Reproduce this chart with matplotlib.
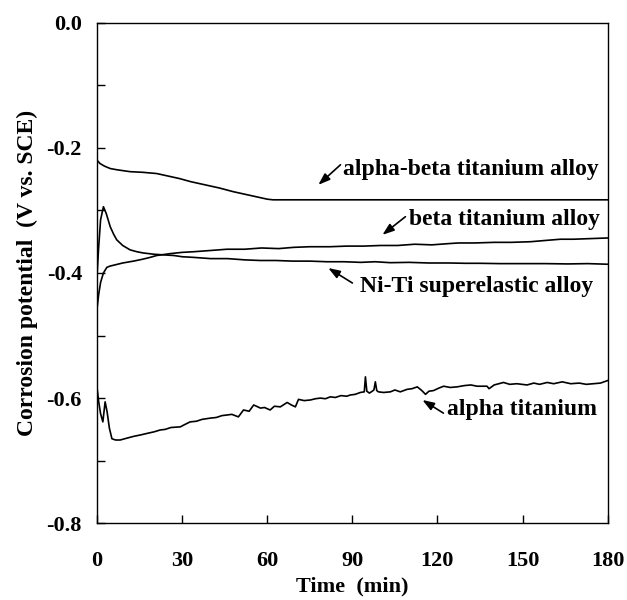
import numpy as np
import matplotlib.pyplot as plt
from matplotlib.ticker import MultipleLocator

plt.rcParams['font.family'] = ['Liberation Serif', 'DejaVu Serif']
plt.rcParams['font.weight'] = 'bold'

# alpha-beta titanium alloy
ab_t = [0, 1, 2.5, 4.6, 7, 11.6, 16, 21, 25, 29, 33, 38, 43, 48, 52, 56, 60, 62, 180]
ab_v = [-0.220, -0.225, -0.229, -0.233, -0.235, -0.238, -0.239, -0.241, -0.245, -0.249,
        -0.254, -0.259, -0.264, -0.270, -0.274, -0.278, -0.282, -0.283, -0.283]

# beta titanium alloy
beta_t = [0, 0.5, 1.2, 2.2, 3.4, 4.5, 6.3, 9, 12.8, 16,
          18.7, 21, 25.8, 30, 34, 40, 45.8, 52, 58, 64,
          69.3, 75, 82, 88, 94, 100, 106, 112, 118, 124,
          127.4, 133, 140, 146, 152.8, 158, 163.4, 168, 174, 180]
beta_v = [-0.455, -0.435, -0.415, -0.400, -0.391, -0.389, -0.387, -0.384, -0.381, -0.378,
          -0.375, -0.372, -0.369, -0.367, -0.366, -0.364, -0.362, -0.362, -0.360, -0.361,
          -0.359, -0.358, -0.358, -0.357, -0.357, -0.356, -0.356, -0.354, -0.355, -0.353,
          -0.352, -0.352, -0.351, -0.351, -0.350, -0.348, -0.346, -0.346, -0.345, -0.344]

# Ni-Ti superelastic alloy
niti_t = [0, 0.5, 1.2, 2.2, 3.2, 4.6, 5.8, 6.9, 9, 11.6,
          14, 16.3, 20, 23.3, 27, 30, 33.9, 40, 46, 52,
          57.5, 63, 69, 75, 81, 87, 93, 98, 103.4, 110,
          117, 124, 130, 135, 142, 150, 158, 166, 173, 180]
niti_v = [-0.400, -0.360, -0.315, -0.294, -0.305, -0.326, -0.338, -0.347, -0.356, -0.363,
          -0.366, -0.368, -0.370, -0.371, -0.372, -0.374, -0.375, -0.377, -0.377, -0.379,
          -0.380, -0.380, -0.381, -0.381, -0.382, -0.382, -0.383, -0.382, -0.3835, -0.383,
          -0.384, -0.384, -0.3845, -0.3845, -0.385, -0.385, -0.385, -0.3855, -0.385, -0.386]

# alpha titanium
a_t = [0, 0.5, 1.2, 2.0, 2.8, 3.5, 4.3, 5.2, 6.5, 8.1,
       10.5, 13, 15.2, 18, 20, 22.2, 24, 26, 29.3, 31,
       32.8, 35, 37, 39.9, 42, 44, 45.8, 47.5, 49.8, 51.6,
       53.6, 55.2, 57.6, 59, 61, 62.5, 64.6, 67, 68.5, 69.9,
       71, 73, 75.2, 77, 78.7, 80.5, 82.2, 84, 86, 88,
       89.3, 91, 92.8, 94.2, 94.6, 95.1, 96, 97, 97.6, 98.1,
       98.6, 99.2, 101, 103.4, 105, 106.9, 109.3, 111, 112.9, 114.5,
       115.8, 117, 118.6, 120.5, 122.2, 124.5, 127, 129.5, 131.8, 134,
       137.5, 138.2, 140, 143.3, 145.5, 148, 151.6, 154, 156, 158.7,
       161, 164, 167, 170, 172.5, 175, 177.5, 180]
a_v = [-0.585, -0.605, -0.625, -0.638, -0.606, -0.622, -0.648, -0.665, -0.667, -0.667,
       -0.664, -0.661, -0.659, -0.656, -0.654, -0.651, -0.650, -0.647, -0.646, -0.642,
       -0.638, -0.637, -0.634, -0.632, -0.631, -0.628, -0.627, -0.626, -0.630, -0.619,
       -0.621, -0.611, -0.616, -0.615, -0.619, -0.613, -0.614, -0.607, -0.611, -0.614,
       -0.602, -0.604, -0.603, -0.601, -0.600, -0.601, -0.598, -0.599, -0.596, -0.597,
       -0.595, -0.594, -0.591, -0.590, -0.566, -0.589, -0.592, -0.589, -0.587, -0.574,
       -0.588, -0.590, -0.591, -0.590, -0.587, -0.590, -0.586, -0.585, -0.582, -0.588,
       -0.594, -0.589, -0.588, -0.584, -0.581, -0.583, -0.582, -0.580, -0.579, -0.581,
       -0.581, -0.585, -0.579, -0.575, -0.578, -0.577, -0.579, -0.576, -0.578, -0.575,
       -0.577, -0.574, -0.577, -0.576, -0.578, -0.577, -0.576, -0.572]

fig = plt.figure(figsize=(6.27, 6.0), dpi=100)
ax = fig.add_axes([0.155, 0.128, 0.814, 0.834])

for t, v in [(ab_t, ab_v), (beta_t, beta_v), (niti_t, niti_v), (a_t, a_v)]:
    ax.plot(t, v, color='black', lw=1.2)

ax.set_xlim(0, 180)
ax.set_ylim(-0.8, 0.0)
ax.xaxis.set_major_locator(MultipleLocator(30))
ax.yaxis.set_major_locator(MultipleLocator(0.2))
ax.yaxis.set_minor_locator(MultipleLocator(0.1))
ax.yaxis.set_major_formatter(lambda y, p: f"{y:.1f}".replace("-0.0", "0.0"))
ax.tick_params(axis='both', which='both', direction='in', length=6, width=1,
               labelsize=16, top=False, right=False)
ax.tick_params(axis='x', pad=20)
ax.tick_params(axis='y', pad=11)
for s in ax.spines.values():
    s.set_linewidth(1.0)

ax.set_xlabel('Time  (min)', fontsize=16, fontweight='bold', labelpad=4)
ax.set_ylabel('Corrosion potential  (V vs. SCE)', fontsize=17, fontweight='bold', labelpad=6)

arrow = dict(arrowstyle='-|>,head_length=0.7,head_width=0.25', color='black', lw=1.2,
             shrinkA=0, shrinkB=0)
labels = [
    ('alpha-beta titanium alloy', (86.8, -0.235), (85.8, -0.227), (78.0, -0.259)),
    ('beta titanium alloy', (109.8, -0.315), (108.7, -0.310), (100.6, -0.339)),
    ('Ni-Ti superelastic alloy', (92.8, -0.422), (90.0, -0.416), (81.5, -0.392)),
    ('alpha titanium', (123.5, -0.619), (122.1, -0.624), (114.7, -0.603)),
]
for txt, pos, tail, tip in labels:
    ax.text(pos[0], pos[1], txt, fontsize=17, fontweight='bold', ha='left', va='center')
    ax.annotate('', xy=tip, xytext=tail, arrowprops=arrow)

fig.savefig('out.png', dpi=100)
